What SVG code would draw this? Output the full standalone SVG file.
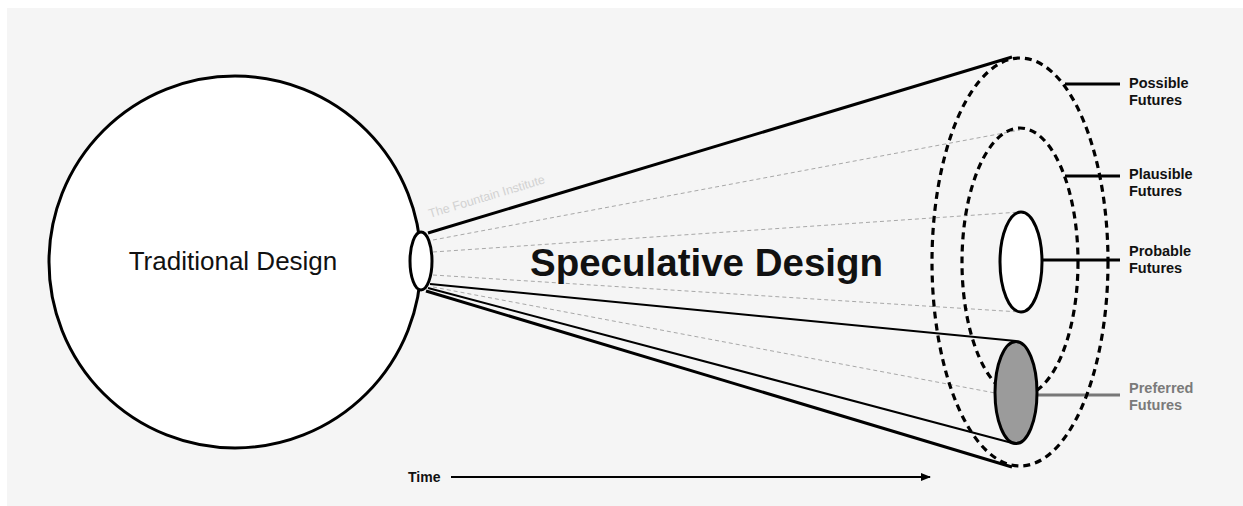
<svg xmlns="http://www.w3.org/2000/svg" width="1243" height="506" viewBox="0 0 1243 506">
  <defs>
    <style>
      .bold { font-family: "Liberation Sans", Arial, sans-serif; font-weight: bold; }
      .reg { font-family: "Liberation Sans", Arial, sans-serif; }
      .thick { stroke: #000; stroke-width: 3; fill: none; }
      .thin { stroke: #000; stroke-width: 2; fill: none; }
      .guide { stroke: #a8a8a8; stroke-width: 1; stroke-dasharray: 4 3; fill: none; }
      .ring { stroke: #000; stroke-width: 3.2; stroke-dasharray: 7 5; fill: none; }
      .lbl { font-size: 14.5px; fill: #111; }
    </style>
    <marker id="arrow" markerWidth="10" markerHeight="10" refX="9" refY="5" orient="auto" markerUnits="userSpaceOnUse">
      <path d="M0,1 L10,5 L0,9 Z" fill="#000"/>
    </marker>
  </defs>

  <rect x="0" y="0" width="1243" height="506" fill="#ffffff"/>
  <rect x="7" y="8" width="1236" height="498" fill="#f5f5f5"/>

  <g id="traditional">
    <circle cx="235" cy="262" r="186" fill="#ffffff" stroke="#000" stroke-width="3"/>
    <text class="reg" x="233" y="270" font-size="26" text-anchor="middle" fill="#111">Traditional Design</text>
  </g>

  <g id="connectors">
    <line class="guide" x1="433" y1="240" x2="1020" y2="130"/>
    <line class="guide" x1="433" y1="252" x2="1020" y2="212"/>
    <line class="guide" x1="433" y1="275" x2="1020" y2="312"/>
    <line class="guide" x1="433" y1="287" x2="995" y2="393"/>
    <line class="thick" x1="428" y1="233" x2="1012" y2="57"/>
    <line class="thick" x1="426" y1="291" x2="1012" y2="467"/>
    <line class="thin" x1="430" y1="284" x2="1016" y2="341"/>
    <line class="thin" x1="428" y1="288" x2="1016" y2="444"/>
    <line class="thick" x1="1065" y1="84" x2="1120" y2="84"/>
    <line class="thick" x1="1065" y1="176" x2="1120" y2="176"/>
    <line class="thick" x1="1042" y1="260" x2="1120" y2="260"/>
    <line stroke="#777" stroke-width="3" x1="1037" y1="395" x2="1120" y2="395"/>
    <line stroke="#000" stroke-width="2" x1="451" y1="477" x2="930" y2="477" marker-end="url(#arrow)"/>
  </g>

  <g id="watermark">
    <text class="reg" x="430" y="218" font-size="12.5" fill="#d2d2d2" transform="rotate(-16.8 430 218)">The Fountain Institute</text>
  </g>

  <g id="origin">
    <ellipse cx="421" cy="261" rx="11" ry="29" fill="#ffffff" stroke="#000" stroke-width="3"/>
  </g>

  <g id="speculative">
    <text class="bold" x="530" y="276" font-size="38.5" fill="#111">Speculative Design</text>
  </g>

  <g id="possible">
    <ellipse class="ring" cx="1020" cy="262" rx="88" ry="204"/>
    <text class="bold lbl" x="1129" y="88">Possible</text>
    <text class="bold lbl" x="1129" y="105">Futures</text>
  </g>

  <g id="plausible">
    <ellipse class="ring" cx="1020" cy="262" rx="58" ry="134"/>
    <text class="bold lbl" x="1129" y="179">Plausible</text>
    <text class="bold lbl" x="1129" y="196">Futures</text>
  </g>

  <g id="probable">
    <ellipse cx="1021" cy="262" rx="21" ry="50" fill="#ffffff" stroke="#000" stroke-width="3"/>
    <text class="bold lbl" x="1129" y="256">Probable</text>
    <text class="bold lbl" x="1129" y="273">Futures</text>
  </g>

  <g id="preferred">
    <ellipse cx="1016" cy="392.5" rx="21" ry="51" fill="#9b9b9b" stroke="#000" stroke-width="3"/>
    <text class="bold lbl" x="1129" y="393" style="fill:#7a7a7a">Preferred</text>
    <text class="bold lbl" x="1129" y="410" style="fill:#7a7a7a">Futures</text>
  </g>

  <g id="time">
    <text class="bold" x="408" y="482" font-size="14" fill="#111">Time</text>
  </g>
</svg>
